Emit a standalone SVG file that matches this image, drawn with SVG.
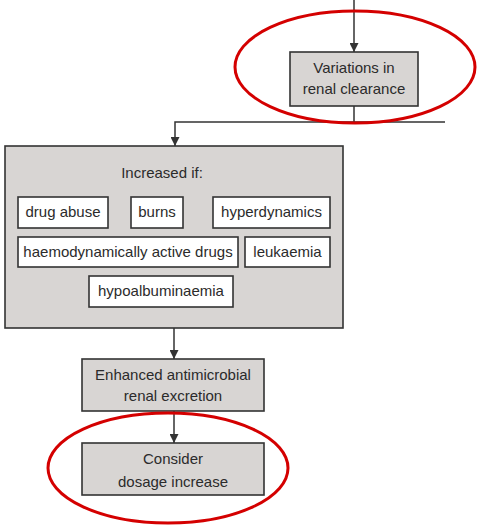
<svg xmlns="http://www.w3.org/2000/svg" width="486" height="529" viewBox="0 0 486 529">
<style>
.box{fill:#d8d5d3;stroke:#333;stroke-width:1.6}
.inner{fill:#fff;stroke:#333;stroke-width:1.6}
.t{font-family:"Liberation Sans",Arial,sans-serif;font-size:15px;fill:#2b2b2b;text-anchor:middle}
.c{stroke:#333;stroke-width:1.5;fill:none}
.ring{fill:none;stroke:#d40000;stroke-width:3}
</style>
<defs>
<marker id="ah" viewBox="0 0 10 10" refX="10" refY="5" markerWidth="9" markerHeight="9" markerUnits="userSpaceOnUse" orient="auto">
<path d="M0,0 L10,5 L0,10 z" fill="#333"/>
</marker>
</defs>
<rect width="486" height="529" fill="#fff"/>
<g id="connectors">
<line class="c" x1="354" y1="0" x2="354" y2="52" marker-end="url(#ah)"/>
<polyline class="c" points="354,106 354,122"/>
<polyline class="c" points="445,122 175,122 175,146" marker-end="url(#ah)"/>
<line class="c" x1="174" y1="328" x2="174" y2="359" marker-end="url(#ah)"/>
<line class="c" x1="174" y1="411" x2="174" y2="443" marker-end="url(#ah)"/>
</g>
<g id="node-variations">
<rect class="box" x="290" y="52" width="128" height="54"/>
<text class="t" x="354" y="73">Variations in</text>
<text class="t" x="354" y="94">renal clearance</text>
</g>
<g id="node-increased">
<rect class="box" x="5" y="146" width="338" height="182"/>
<text class="t" x="162" y="178">Increased if:</text>
</g>
<g id="node-drug-abuse">
<rect class="inner" x="18" y="197" width="90" height="31"/>
<text class="t" x="63" y="217">drug abuse</text>
</g>
<g id="node-burns">
<rect class="inner" x="131" y="197" width="52" height="31"/>
<text class="t" x="157" y="217">burns</text>
</g>
<g id="node-hyperdynamics">
<rect class="inner" x="213" y="197" width="117" height="31"/>
<text class="t" x="271.5" y="217">hyperdynamics</text>
</g>
<g id="node-haemodynamic">
<rect class="inner" x="18" y="237" width="220" height="30"/>
<text class="t" x="128" y="257">haemodynamically active drugs</text>
</g>
<g id="node-leukaemia">
<rect class="inner" x="245" y="237" width="85" height="30"/>
<text class="t" x="287.5" y="257">leukaemia</text>
</g>
<g id="node-hypoalbuminaemia">
<rect class="inner" x="89" y="276" width="144" height="31"/>
<text class="t" x="161" y="296">hypoalbuminaemia</text>
</g>
<g id="node-enhanced">
<rect class="box" x="82" y="359" width="182" height="52"/>
<text class="t" x="173" y="380">Enhanced antimicrobial</text>
<text class="t" x="173" y="401">renal excretion</text>
</g>
<g id="node-consider">
<rect class="box" x="82" y="443" width="182" height="52"/>
<text class="t" x="173" y="464">Consider</text>
<text class="t" x="173" y="487">dosage increase</text>
</g>
<g id="highlights">
<ellipse class="ring" cx="355" cy="67" rx="120" ry="56"/>
<ellipse class="ring" cx="168" cy="468" rx="120" ry="55"/>
</g>
</svg>
